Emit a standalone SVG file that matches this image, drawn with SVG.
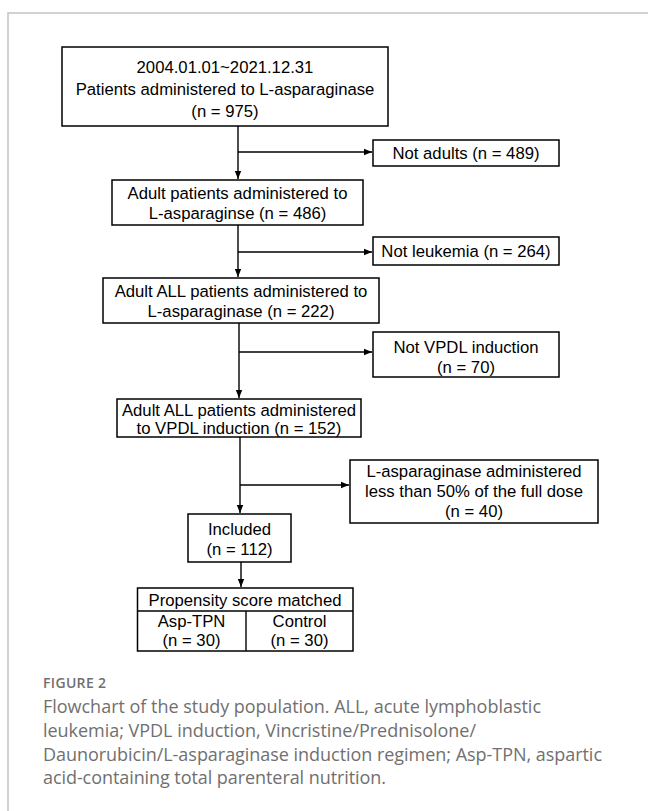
<svg xmlns="http://www.w3.org/2000/svg" width="648" height="811" viewBox="0 0 648 811">
<style>
.box{fill:#fff;stroke:#000;stroke-width:1.5}
.t{font-family:"Liberation Sans",Arial,sans-serif;font-size:16.7px;fill:#000;text-anchor:middle}
.ln{stroke:#000;stroke-width:1.4;fill:none}
.cap{font-family:"Open Sans","Noto Sans",sans-serif;fill:#707070}
</style>
<defs>
<marker id="ah" markerWidth="9" markerHeight="8" refX="8" refY="4" orient="auto" markerUnits="userSpaceOnUse">
<path d="M0,0.8 L8,4 L0,7.2 Z" fill="#000"/>
</marker>
</defs>
<rect width="648" height="811" fill="#fff"/>
<path d="M8,820 L8,13 L660,13" fill="none" stroke="#c4c4c4" stroke-width="1.5"/>

<g id="connectors">
<path class="ln" d="M238,126 L238,179" marker-end="url(#ah)"/>
<path class="ln" d="M238,152 L372,152" marker-end="url(#ah)"/>
<path class="ln" d="M238,225 L238,277" marker-end="url(#ah)"/>
<path class="ln" d="M238,252 L372,252" marker-end="url(#ah)"/>
<path class="ln" d="M239,323 L239,398" marker-end="url(#ah)"/>
<path class="ln" d="M239,352 L372,352" marker-end="url(#ah)"/>
<path class="ln" d="M240,437 L240,513" marker-end="url(#ah)"/>
<path class="ln" d="M240,485 L349,485" marker-end="url(#ah)"/>
<path class="ln" d="M241,562 L241,587" marker-end="url(#ah)"/>
</g>

<g id="n1">
<rect class="box" x="62" y="47" width="326" height="79"/>
<text class="t" x="225" y="73">2004.01.01~2021.12.31</text>
<text class="t" x="225" y="95">Patients administered to L-asparaginase</text>
<text class="t" x="225" y="117">(n = 975)</text>
</g>
<g id="n2">
<rect class="box" x="373" y="140" width="186" height="26"/>
<text class="t" x="466" y="159">Not adults (n = 489)</text>
</g>
<g id="n3">
<rect class="box" x="112" y="180" width="251" height="45"/>
<text class="t" x="237.5" y="199">Adult patients administered to</text>
<text class="t" x="237.5" y="219">L-asparaginse (n = 486)</text>
</g>
<g id="n4">
<rect class="box" x="373" y="237" width="186" height="28"/>
<text class="t" x="466" y="257">Not leukemia (n = 264)</text>
</g>
<g id="n5">
<rect class="box" x="103" y="278" width="276" height="45"/>
<text class="t" x="241" y="297">Adult ALL patients administered to</text>
<text class="t" x="241" y="317">L-asparaginase (n = 222)</text>
</g>
<g id="n6">
<rect class="box" x="373" y="332" width="186" height="45"/>
<text class="t" x="466" y="353">Not VPDL induction</text>
<text class="t" x="466" y="373">(n = 70)</text>
</g>
<g id="n7">
<rect class="box" x="117" y="399" width="244" height="38"/>
<text class="t" x="239" y="415.5">Adult ALL patients administered</text>
<text class="t" x="239" y="434">to VPDL induction (n = 152)</text>
</g>
<g id="n8">
<rect class="box" x="350" y="460" width="248" height="63"/>
<text class="t" x="474" y="477">L-asparaginase administered</text>
<text class="t" x="474" y="497">less than 50% of the full dose</text>
<text class="t" x="474" y="517">(n = 40)</text>
</g>
<g id="n9">
<rect class="box" x="188" y="514" width="103" height="48"/>
<text class="t" x="239.5" y="535">Included</text>
<text class="t" x="239.5" y="555">(n = 112)</text>
</g>
<g id="n10">
<rect class="box" x="137.5" y="588" width="215.5" height="63"/>
<line class="ln" x1="137.5" y1="611" x2="353" y2="611"/>
<line class="ln" x1="246" y1="611" x2="246" y2="651"/>
<text class="t" x="245" y="606">Propensity score matched</text>
<text class="t" x="191.5" y="627">Asp-TPN</text>
<text class="t" x="191.5" y="646">(n = 30)</text>
<text class="t" x="299.5" y="627">Control</text>
<text class="t" x="299.5" y="646">(n = 30)</text>
</g>

<g id="caption">
<text class="cap" x="43" y="688" font-size="14" font-weight="600" textLength="63">FIGURE 2</text>
<text class="cap" x="43" y="713" font-size="18" textLength="498">Flowchart of the study population. ALL, acute lymphoblastic</text>
<text class="cap" x="43" y="737" font-size="18" textLength="433">leukemia; VPDL induction, Vincristine/Prednisolone/</text>
<text class="cap" x="43" y="761" font-size="18" textLength="559">Daunorubicin/L-asparaginase induction regimen; Asp-TPN, aspartic</text>
<text class="cap" x="43" y="784" font-size="18" textLength="343">acid-containing total parenteral nutrition.</text>
</g>
</svg>
